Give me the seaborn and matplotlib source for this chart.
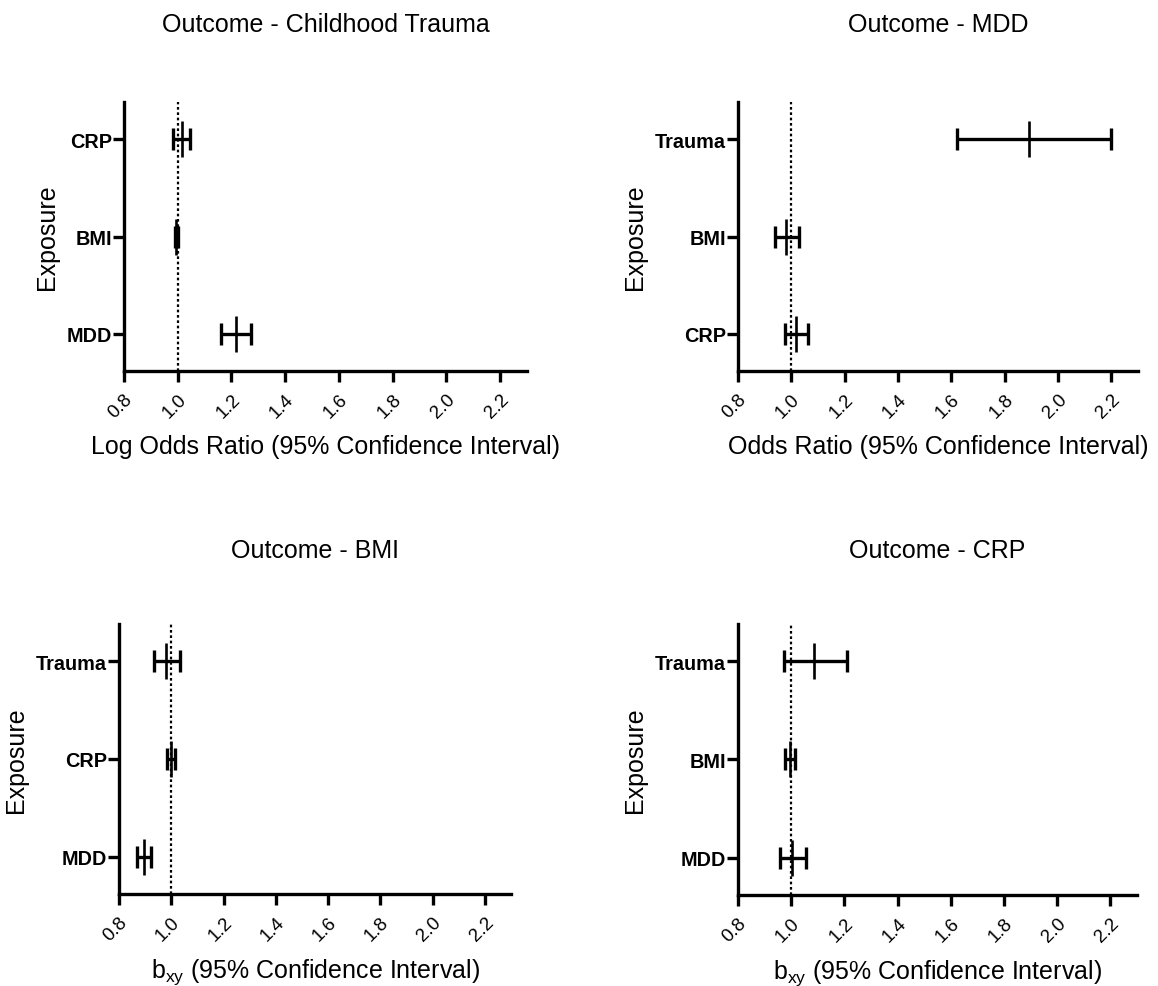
import matplotlib
matplotlib.use("Agg")
import matplotlib.pyplot as plt
import seaborn as sns
import numpy as np
import pandas as pd

# Estimates with 95% confidence intervals, exposures listed top to bottom
tl_exposure = ["CRP", "BMI", "MDD"]
tl_est = [1.014, 0.995, 1.215]
tl_lo = [0.983, 0.990, 1.160]
tl_hi = [1.045, 1.000, 1.272]

tr_exposure = ["Trauma", "BMI", "CRP"]
tr_est = [1.890, 0.981, 1.016]
tr_lo = [1.623, 0.939, 0.975]
tr_hi = [2.200, 1.028, 1.064]

bl_exposure = ["Trauma", "CRP", "MDD"]
bl_est = [0.980, 0.998, 0.896]
bl_lo = [0.935, 0.984, 0.870]
bl_hi = [1.033, 1.013, 0.922]

br_exposure = ["Trauma", "BMI", "MDD"]
br_est = [1.085, 0.995, 1.004]
br_lo = [0.972, 0.977, 0.958]
br_hi = [1.211, 1.013, 1.054]

titles = ["Outcome - Childhood Trauma", "Outcome - MDD",
          "Outcome - BMI", "Outcome - CRP"]
xlabels = ["Log Odds Ratio (95% Confidence Interval)",
           "Odds Ratio (95% Confidence Interval)",
           r"$\mathregular{b_{xy}}$ (95% Confidence Interval)",
           r"$\mathregular{b_{xy}}$ (95% Confidence Interval)"]
x_ticks = [0.8, 1.0, 1.2, 1.4, 1.6, 1.8, 2.0, 2.2]
x_tick_labels = ["0.8", "1.0", "1.2", "1.4", "1.6", "1.8", "2.0", "2.2"]

sns.set_theme(style="ticks")
plt.rcParams["font.family"] = ["Liberation Sans", "DejaVu Sans"]
plt.rcParams["mathtext.fontset"] = "custom"
plt.rcParams["mathtext.rm"] = "Liberation Sans"
plt.rcParams["mathtext.it"] = "Liberation Sans"
for key in ["text.color", "axes.labelcolor", "xtick.color", "ytick.color",
            "axes.edgecolor"]:
    plt.rcParams[key] = "black"

fig = plt.figure(figsize=(11.58, 9.87), dpi=100)
fig.patch.set_facecolor("white")

rects = [
    [0.1071, 0.6231, 0.3480, 0.2725],
    [0.6373, 0.6231, 0.3454, 0.2725],
    [0.1028, 0.0932, 0.3385, 0.2736],
    [0.6373, 0.0922, 0.3446, 0.2746],
]
title_pads = [51, 51, 48, 48]

panels = [
    (tl_exposure, tl_est, tl_lo, tl_hi),
    (tr_exposure, tr_est, tr_lo, tr_hi),
    (bl_exposure, bl_est, bl_lo, bl_hi),
    (br_exposure, br_est, br_lo, br_hi),
]

for i, (exposure, est, lo, hi) in enumerate(panels):
    ax = fig.add_axes(rects[i])
    ax.set_facecolor("white")
    n = len(exposure)
    df = pd.DataFrame({
        "exposure": exposure,
        "pos": np.arange(n)[::-1].astype(float),
        "est": est,
        "lo": lo,
        "hi": hi,
    })

    # reference line at 1
    ax.axvline(1.0, color="black", lw=1.6, ls=(0, (1.2, 1.2)), zorder=1)

    # confidence interval whiskers with caps
    ax.errorbar(df["est"], df["pos"],
                xerr=[df["est"] - df["lo"], df["hi"] - df["est"]],
                fmt="none", ecolor="black", elinewidth=2.4,
                capsize=8, capthick=2.4, zorder=3)

    # point estimates drawn as vertical ticks
    sns.scatterplot(data=df, x="est", y="pos", marker="|", s=700,
                    color="black", linewidth=1.9, ax=ax, zorder=4,
                    legend=False)

    ax.set_xlim(0.8, 2.3)
    ax.set_ylim(-0.38, 2.38)
    ax.set_xticks(x_ticks)
    ax.set_xticklabels(x_tick_labels, rotation=45, ha="right",
                       rotation_mode="anchor", fontsize=13.5, color="black")
    ax.set_yticks(df["pos"])
    ax.set_yticklabels(exposure, fontsize=14.3, fontweight="bold",
                       color="black")

    sns.despine(ax=ax)
    for side in ["left", "bottom"]:
        ax.spines[side].set_linewidth(2.4)
        ax.spines[side].set_color("black")
    ax.tick_params(axis="both", length=8, width=2.4, color="black",
                   direction="out")
    ax.tick_params(axis="y", pad=0.5)
    ax.tick_params(axis="x", pad=6)

    ax.set_xlabel(xlabels[i], fontsize=18, labelpad=9, color="black")
    ax.set_ylabel("Exposure", fontsize=18, labelpad=6, color="black")
    ax.set_title(titles[i], fontsize=18, pad=title_pads[i], color="black")

fig.savefig("out.png", dpi=100, facecolor="white")
